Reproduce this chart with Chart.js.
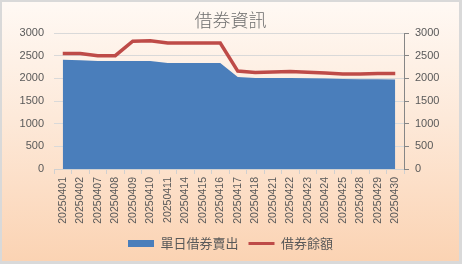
<!DOCTYPE html>
<html>
<head>
<meta charset="utf-8">
<script src="https://cdn.jsdelivr.net/npm/chart.js@4"></script>
<style>
  html, body { margin: 0; padding: 0; background: #fff; }
  #wrap {
    position: absolute; left: 0; top: 0;
    width: 462px; height: 264px; box-sizing: border-box;
    border: 2px solid #D9D9D9; border-right-width: 3px; border-bottom-width: 3px;
    background: linear-gradient(to bottom, #FFF9F4 0%, #FDE9D9 45%, #FBD3B3 100%);
  }
  #chart { display: block; }
</style>
</head>
<body>
<div id="wrap"><canvas id="chart" width="457" height="259"></canvas></div>
<script>
// data
const dates = ['20250401', '20250402', '20250407', '20250408', '20250409', '20250410',
  '20250411', '20250414', '20250415', '20250416', '20250417', '20250418', '20250421',
  '20250422', '20250423', '20250424', '20250425', '20250428', '20250429', '20250430'];
const dailyShortSell = [2410, 2400, 2380, 2380, 2380, 2380, 2340, 2340, 2340, 2340,
  2030, 2010, 2010, 2010, 2000, 1995, 1985, 1980, 1980, 1975];
const lendingBalance = [2550, 2550, 2500, 2500, 2820, 2830, 2780, 2780, 2780, 2780,
  2160, 2130, 2140, 2150, 2135, 2115, 2095, 2095, 2105, 2105];
const axisTicks = [0, 500, 1000, 1500, 2000, 2500, 3000];

const TEXT = '#595959';
const FONT = '"Liberation Sans", "Noto Sans CJK TC", sans-serif';
const CJK = '"Noto Sans CJK TC", sans-serif';
const BLUE = '#4A7EBB';
const RED = '#BE4B48';

// fixed ticks, plain numbers (no thousands separator)
const tickValues = (scale) => {
  scale.ticks = axisTicks.map(v => ({ value: v }));
};
const plain = (v) => String(v);

new Chart(document.getElementById('chart'), {
  type: 'line',
  data: {
    labels: dates,
    datasets: [{
      label: '單日借券賣出',
      data: dailyShortSell,
      yAxisID: 'y',
      fill: 'origin',
      backgroundColor: BLUE,
      borderColor: BLUE,
      borderWidth: 0,
      pointRadius: 0,
      tension: 0,
      order: 1
    }, {
      label: '借券餘額',
      data: lendingBalance,
      yAxisID: 'y1',
      fill: false,
      borderColor: RED,
      backgroundColor: RED,
      borderWidth: 3.5,
      pointRadius: 0,
      tension: 0,
      order: 0
    }]
  },
  options: {
    responsive: false,
    animation: false,
    layout: { padding: { left: 0, right: 0, top: 0, bottom: 1 } },
    scales: {
      x: {
        offset: true,
        grid: { offset: true, drawOnChartArea: false, drawTicks: true, tickLength: 5, color: '#D0D0D0' },
        border: { display: true, color: '#D0D0D0' },
        ticks: {
          color: TEXT, font: { family: FONT, size: 10.5 },
          minRotation: 90, maxRotation: 90, autoSkip: false, padding: 3
        },
        afterFit: (s) => { s.height = 58; }
      },
      y: {
        position: 'left',
        min: 0, max: 3000,
        afterBuildTicks: tickValues,
        grid: { color: '#D9D9D9', drawTicks: false },
        border: { display: false },
        ticks: { color: TEXT, font: { family: FONT, size: 11 }, padding: 10, callback: plain },
        afterFit: (s) => { s.width = 52; }
      },
      y1: {
        position: 'right',
        min: 0, max: 3000,
        afterBuildTicks: tickValues,
        grid: { drawOnChartArea: false, drawTicks: true, tickLength: 5, color: '#868686' },
        border: { display: true, color: '#868686' },
        ticks: { color: TEXT, font: { family: FONT, size: 11 }, padding: 6, callback: plain },
        afterFit: (s) => { s.width = 55; }
      }
    },
    plugins: {
      title: {
        display: true,
        text: '借券資訊',
        color: '#6E6E6E',
        font: { family: CJK, size: 18, weight: 300 },
        padding: { top: 7, bottom: 2.4 }
      },
      legend: {
        position: 'bottom',
        labels: {
          color: TEXT,
          font: { family: CJK, size: 13 },
          usePointStyle: true,
          pointStyleWidth: 26,
          boxHeight: 7,
          padding: 10,
          generateLabels: () => [
            { text: '單日借券賣出', fillStyle: BLUE, strokeStyle: BLUE, lineWidth: 0, pointStyle: 'rect', datasetIndex: 0, fontColor: TEXT },
            { text: '借券餘額', fillStyle: RED, strokeStyle: RED, lineWidth: 3, pointStyle: 'line', datasetIndex: 1, fontColor: TEXT }
          ]
        }
      },
      tooltip: { enabled: false }
    }
  }
});
</script>
</body>
</html>
